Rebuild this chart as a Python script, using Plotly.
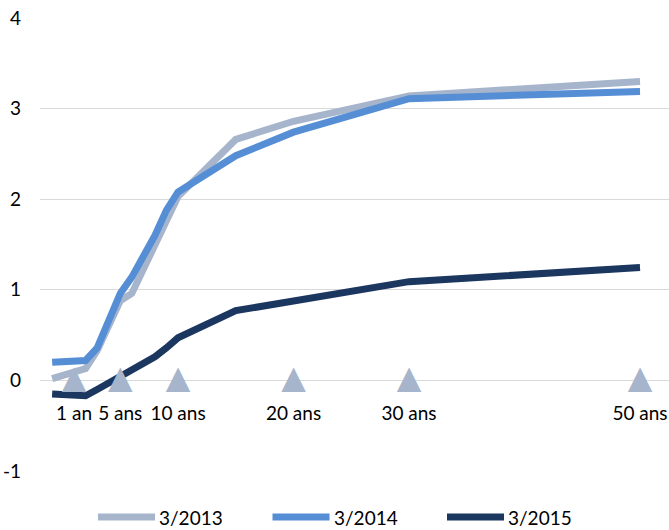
import plotly.graph_objects as go

# Yield curves (in %) by maturity (years)
maturities = [-0.9, 2, 3, 4, 5, 6, 7, 8, 9, 10, 15, 20, 30, 50]
series_names = ["3/2013", "3/2014", "3/2015"]
yields_2013 = [0.02, 0.13, 0.33, 0.60, 0.88, 0.96, 1.23, 1.50, 1.76, 2.03, 2.66, 2.86, 3.14, 3.30]
yields_2014 = [0.20, 0.22, 0.36, 0.66, 0.96, 1.14, 1.37, 1.60, 1.88, 2.08, 2.48, 2.74, 3.11, 3.19]
yields_2015 = [-0.15, -0.17, -0.10, -0.03, 0.05, 0.11, 0.18, 0.26, 0.36, 0.47, 0.77, 0.88, 1.09, 1.245]

# Reference maturities marked on the zero line
marker_maturities = [1, 5, 10, 20, 30, 50]
marker_labels = ["1 an", "5 ans", "10 ans", "20 ans", "30 ans", "50 ans"]

# Value axis ticks (plain hyphen for negatives)
y_ticks = [-1, 0, 1, 2, 3, 4]
y_tick_labels = ["-1", "0", "1", "2", "3", "4"]

colors = ["#A6B5CC", "#558ED5", "#1B375F"]
FONT = "Lato"
W, H = 669, 530
ML, MR, MT, MB = 40, 0, 18, 59

fig = go.Figure()
for name, ys, col in zip(series_names, [yields_2013, yields_2014, yields_2015], colors):
    fig.add_trace(go.Scatter(
        x=maturities, y=ys, mode="lines", name=name,
        line=dict(color=col, width=7), showlegend=False,
    ))

# Triangle markers on the zero line
fig.add_trace(go.Scatter(
    x=marker_maturities, y=[0] * len(marker_maturities), mode="text",
    text=["\u25B2"] * len(marker_maturities), textposition="middle center",
    textfont=dict(family="DejaVu Sans", size=32, color="#A6B5CC"),
    showlegend=False, hoverinfo="skip",
))

# Custom legend: long line samples with labels at the bottom
plot_w = W - ML - MR
plot_h = H - MT - MB
leg_y = -(517 - (H - MB)) / plot_h
for i, (name, col) in enumerate(zip(series_names, colors)):
    x0 = (98 + i * 174.5 - ML) / plot_w
    x1 = x0 + 57 / plot_w
    fig.add_shape(type="line", xref="paper", yref="paper",
                  x0=x0, x1=x1, y0=leg_y, y1=leg_y,
                  line=dict(color=col, width=7))
    fig.add_annotation(xref="paper", yref="paper", x=x1 + 2 / plot_w, y=leg_y,
                       text=name, showarrow=False, xanchor="left", yanchor="middle",
                       font=dict(family=FONT, size=19, color="#000000"))

fig.update_layout(
    width=W, height=H,
    margin=dict(l=ML, r=MR, t=MT, b=MB),
    paper_bgcolor="white", plot_bgcolor="white",
    font=dict(family=FONT, size=19, color="#000000"),
    xaxis=dict(
        range=[-1.95, 52.51], showgrid=False, zeroline=False, showline=False,
        tickmode="array", tickvals=marker_maturities, ticktext=marker_labels,
        ticks="", anchor="free", position=0.2, ticklabelstandoff=20,
        tickfont=dict(family=FONT, size=19, color="#000000"),
    ),
    yaxis=dict(
        range=[-1, 4], tickmode="array", tickvals=y_ticks, ticktext=y_tick_labels,
        showgrid=True, gridcolor="#D9D9D9", gridwidth=1,
        zeroline=False, showline=False, ticks="", ticklabelstandoff=18,
        tickfont=dict(family=FONT, size=19, color="#000000"),
    ),
)

fig.write_html("out.html")
